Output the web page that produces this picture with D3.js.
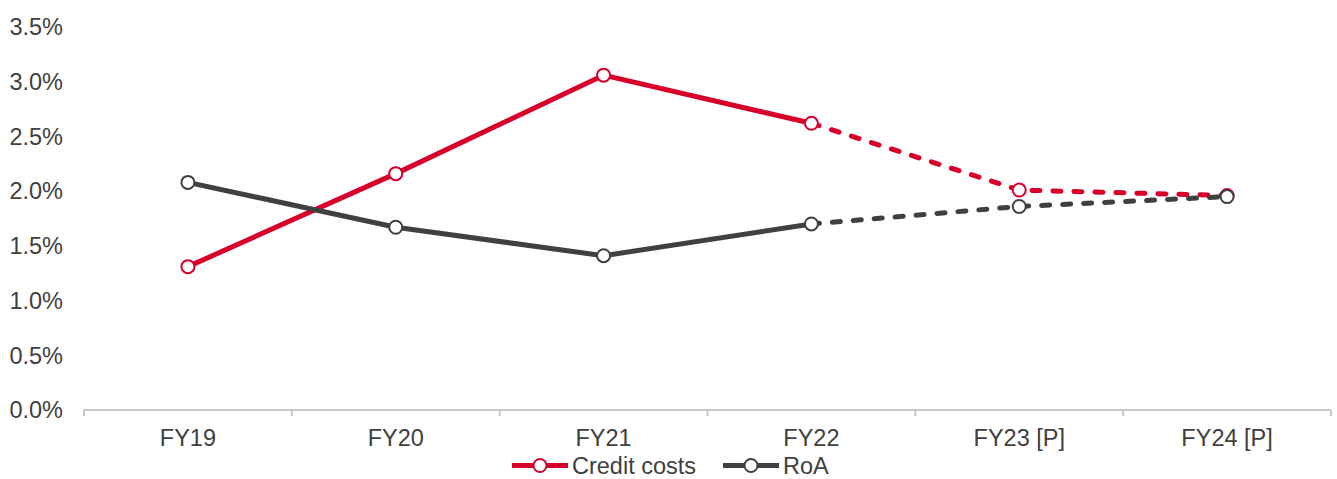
<!DOCTYPE html>
<html><head><meta charset="utf-8">
<script src="https://cdn.jsdelivr.net/npm/d3@7"></script>
<style>body{margin:0;background:#fff}svg{display:block}</style>
</head><body>
<svg id="c" width="1337" height="479"></svg>
<script>
const categories = ["FY19","FY20","FY21","FY22","FY23 [P]","FY24 [P]"];
const creditCosts = [1.31, 2.16, 3.06, 2.62, 2.01, 1.96];
const roa = [2.08, 1.67, 1.41, 1.70, 1.86, 1.95];
const yTicks = [0,0.5,1.0,1.5,2.0,2.5,3.0,3.5];
const solidUntil = 3; // index of last actual (non-projected) point
const seriesNames = ["Credit costs","RoA"];
const colors = ["#D7002A","#404040"];

(function(){
const svg = d3.select("#c");
const font = "'Liberation Sans', Arial, sans-serif";
const pl = 84, pr = 1331, pt = 27, pb = 410;
const x = d3.scaleBand().domain(categories).range([pl,pr]).padding(0);
const y = d3.scaleLinear().domain([0,3.5]).range([pb,pt]);

svg.append("g").selectAll("text").data(yTicks).join("text")
  .attr("x",63).attr("y",d=>y(d)).attr("dy","0.35em")
  .attr("text-anchor","end").attr("font-family",font).attr("font-size",23.5)
  .attr("fill","#404040").text(d=>d.toFixed(1)+"%");

const xAxis = d3.axisBottom(x).tickSize(0).tickPadding(0);
const gx = svg.append("g").attr("transform",`translate(0,${pb})`).call(xAxis);
gx.select(".domain").remove();
gx.selectAll("text").attr("font-family",font).attr("font-size",23.5).attr("fill","#404040").attr("dy","0.35em").attr("y",28);
gx.append("line").attr("x1",pl).attr("x2",pr).attr("y1",0).attr("y2",0).attr("stroke","#C8C8C8").attr("stroke-width",2);
const bounds = categories.map(c=>x(c)).concat([pr]);
gx.selectAll(".bt").data(bounds).join("line").attr("class","bt")
  .attr("x1",d=>d).attr("x2",d=>d).attr("y1",0).attr("y2",6).attr("stroke","#C8C8C8").attr("stroke-width",2);

const cx = c => x(c)+x.bandwidth()/2;
const line = d3.line().x(d=>cx(d.c)).y(d=>y(d.v));

[creditCosts, roa].forEach((vals,si)=>{
  const pts = vals.map((v,i)=>({c:categories[i],v}));
  const g = svg.append("g");
  g.append("path").attr("d",line(pts.slice(0,solidUntil+1))).attr("fill","none")
    .attr("stroke",colors[si]).attr("stroke-width",5).attr("stroke-linejoin","round");
  g.append("path").attr("d",line(pts.slice(solidUntil))).attr("fill","none")
    .attr("stroke",colors[si]).attr("stroke-width",5).attr("stroke-dasharray","8,13").attr("stroke-linecap","round");
  g.selectAll("circle").data(pts).join("circle")
    .attr("cx",d=>cx(d.c)).attr("cy",d=>y(d.v)).attr("r",6.5)
    .attr("fill","#fff").attr("stroke",colors[si]).attr("stroke-width",2);
});

const legX = [512, 723];
const lg = svg.append("g");
seriesNames.forEach((n,i)=>{
  const g = lg.append("g").attr("transform",`translate(${legX[i]},465.5)`);
  g.append("line").attr("x1",0).attr("x2",56).attr("stroke",colors[i]).attr("stroke-width",5);
  g.append("circle").attr("cx",28).attr("cy",0).attr("r",6.5).attr("fill","#fff").attr("stroke",colors[i]).attr("stroke-width",2);
  g.append("text").attr("x",60).attr("y",0).attr("dy","0.35em").attr("font-family",font).attr("font-size",23.5).attr("fill","#404040").text(n);
});
})();
</script>
</body></html>
